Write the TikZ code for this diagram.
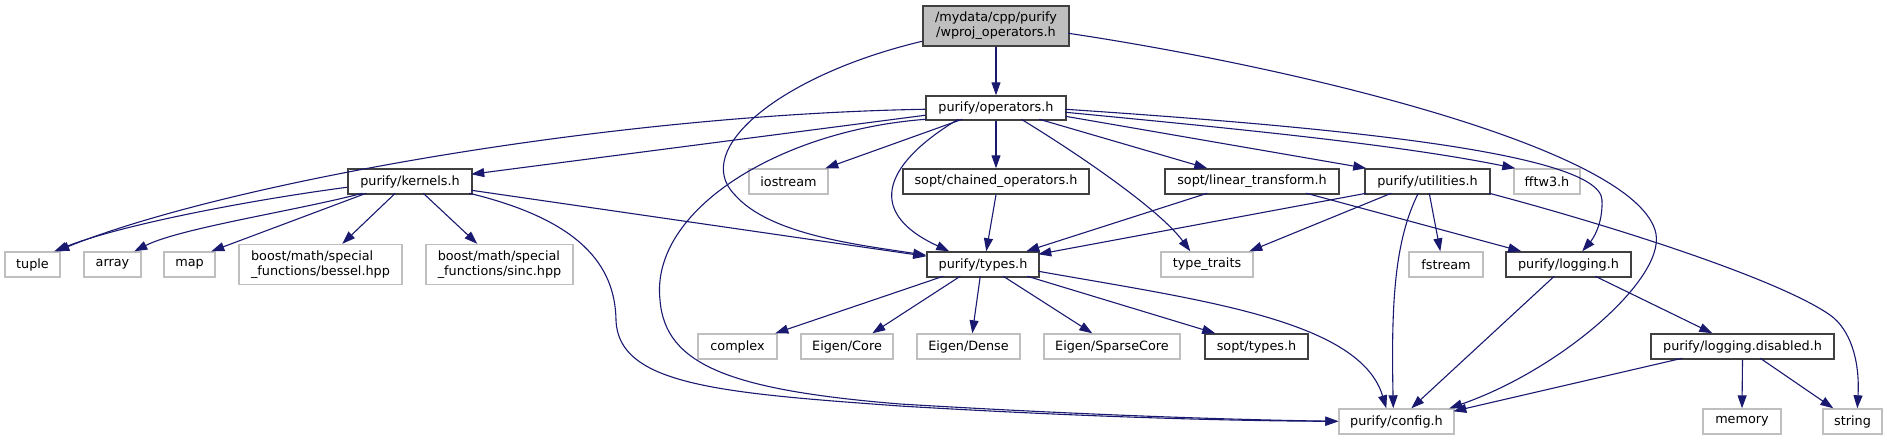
\documentclass[tikz,border=0pt]{standalone}
\usepackage{fontspec}
\setmainfont{DejaVu Sans}
\usetikzlibrary{arrows.meta,calc}
\definecolor{edgecol}{HTML}{191970}
\definecolor{docb}{HTML}{404040}
\definecolor{undocb}{HTML}{BFBFBF}
\definecolor{rootfill}{HTML}{BFBFBF}
\begin{document}
\begin{tikzpicture}[x=1pt,y=-1pt,
  box/.style={rectangle, inner sep=0pt, minimum height=25pt, font=\fontsize{12.8}{15}\selectfont, fill=white},
  doc/.style={box, draw=docb, line width=1.5pt},
  ext/.style={box, draw=undocb, line width=1.4pt},
  root/.style={doc, fill=rootfill},
  link/.style={draw=edgecol, line width=1.1pt, -{Triangle[length=13pt,width=9pt]}}]
\useasboundingbox (0,0) rectangle (1887,440);
% row 1
\node[root, minimum width=146pt, minimum height=40pt, align=center] (top) at (996,26) {/mydata/cpp/purify\\/wproj\_operators.h};
% row 2
\node[doc, minimum width=140pt, minimum height=24pt] (ops) at (996,108) {purify/operators.h};
% row 3
\node[doc, minimum width=124pt] (kern) at (410,181.5) {purify/kernels.h};
\node[ext, minimum width=79pt] (iost) at (788.5,181.5) {iostream};
\node[doc, minimum width=186pt] (chain) at (996,181.5) {sopt/chained\_operators.h};
\node[doc, minimum width=174pt] (lin) at (1252,181.5) {sopt/linear\_transform.h};
\node[doc, minimum width=125pt] (util) at (1427.5,181.5) {purify/utilities.h};
\node[ext, minimum width=66pt] (fftw) at (1547,181.5) {fftw3.h};
% row 4
\node[ext, minimum width=55pt] (tuple) at (32.5,264.5) {tuple};
\node[ext, minimum width=57pt] (array) at (112.5,264.5) {array};
\node[ext, minimum width=51pt] (map) at (189.5,264.5) {map};
\node[ext, minimum width=163pt, minimum height=40pt, align=left] (bessel) at (320.5,264.5) {boost/math/special\\\_functions/bessel.hpp};
\node[ext, minimum width=147pt, minimum height=40pt, align=left] (sinc) at (499.5,264.5) {boost/math/special\\\_functions/sinc.hpp};
\node[doc, minimum width=112pt] (types) at (983,264.5) {purify/types.h};
\node[ext, minimum width=92pt] (ttr) at (1207,264.5) {type\_traits};
\node[ext, minimum width=74pt] (fstr) at (1446,264.5) {fstream};
\node[doc, minimum width=125pt] (logg) at (1568.5,264.5) {purify/logging.h};
% row 5
\node[ext, minimum width=79pt] (cplx) at (737.5,346.5) {complex};
\node[ext, minimum width=92pt] (ecore) at (847,346.5) {Eigen/Core};
\node[ext, minimum width=103pt] (edense) at (968.5,346.5) {Eigen/Dense};
\node[ext, minimum width=136pt] (esparse) at (1112,346.5) {Eigen/SparseCore};
\node[doc, minimum width=103pt] (stypes) at (1256.5,346.5) {sopt/types.h};
\node[doc, minimum width=183pt] (logdis) at (1742.5,346.5) {purify/logging.disabled.h};
% row 6
\node[ext, minimum width=115pt] (config) at (1396.5,421.5) {purify/config.h};
\node[ext, minimum width=78pt] (memory) at (1742,421.5) {memory};
\node[ext, minimum width=59pt] (string) at (1852.5,421.5) {string};

% edges
\draw[link] (top.south) -- (ops.north);
\draw[link] ($(top.north west)+(0,36)$) .. controls (780,75) and (690,150) .. (735,195) .. controls (770,235) and (860,245) .. ($(types.north west)+(0,4)$);
\draw[link] ($(top.north west)+(146,28)$) .. controls (1300,68) and (1640,150) .. (1656,234) .. controls (1664,280) and (1560,370) .. ($(config.north west)+(111,0)$);

\draw[link] ($(ops.north west)+(0,20)$) -- ($(kern.north west)+(124,6)$);
\draw[link] ($(ops.north west)+(0,14)$) .. controls (600,115) and (220,185) .. ($(tuple.north west)+(52,0)$);
\draw[link] ($(ops.north west)+(1,24)$) .. controls (780,130) and (650,210) .. (660,300) .. controls (665,365) and (730,390) .. (900,404) .. controls (1100,416) and (1250,420) .. ($(config.north west)+(0,13)$);
\draw[link] ($(ops.north west)+(37,24)$) -- ($(iost.north west)+(77,0)$);
\draw[link] (ops.south) -- (chain.north);
\draw[link] ($(ops.north west)+(33,24)$) .. controls (890,160) and (860,210) .. ($(types.north west)+(23,0)$);
\draw[link] ($(ops.north west)+(96,24)$) .. controls (1080,155) and (1160,210) .. ($(ttr.north west)+(30,0)$);
\draw[link] ($(ops.north west)+(114,24)$) -- ($(lin.north west)+(43,0)$);
\draw[link] ($(ops.north west)+(140,14)$) .. controls (1300,125) and (1600,150) .. (1602,200) .. controls (1603,225) and (1592,240) .. ($(logg.north west)+(77,0)$);
\draw[link] ($(ops.north west)+(140,17)$) .. controls (1250,130) and (1400,145) .. ($(fftw.north west)+(2,0)$);
\draw[link] ($(ops.north west)+(140,21)$) -- ($(util.north west)+(2,0)$);

\draw[link] ($(kern.north west)+(0,19)$) .. controls (250,200) and (120,225) .. ($(tuple.north west)+(50,0)$);
\draw[link] ($(kern.north west)+(15,25)$) .. controls (300,210) and (180,228) .. ($(array.north west)+(51,0)$);
\draw[link] ($(kern.north west)+(19,25)$) -- ($(map.north west)+(48,0)$);
\draw[link] ($(kern.north west)+(48,25)$) -- ($(bessel.north west)+(104,0)$);
\draw[link] ($(kern.north west)+(76,25)$) -- ($(sinc.north west)+(52,0)$);
\draw[link] ($(kern.north west)+(124,22)$) -- ($(types.north west)+(0,5)$);
\draw[link] ($(kern.north west)+(122,25)$) .. controls (580,220) and (615,265) .. (616,320) .. controls (618,385) and (720,393) .. (900,406) .. controls (1100,418) and (1250,421) .. ($(config.north west)+(0,13)$);

\draw[link] (chain.south) -- ($(types.north west)+(60,0)$);
\draw[link] ($(lin.north west)+(43,25)$) -- ($(types.north west)+(100,0)$);
\draw[link] ($(lin.north west)+(142,25)$) -- ($(logg.north west)+(16,0)$);

\draw[link] ($(util.north west)+(2,25)$) -- ($(types.north west)+(112,3)$);
\draw[link] ($(util.north west)+(27,25)$) -- ($(ttr.north west)+(89,0)$);
\draw[link] ($(util.north west)+(54,25)$) .. controls (1395,240) and (1391,300) .. ($(config.north west)+(55,0)$);
\draw[link] ($(util.north west)+(65,25)$) -- ($(fstr.north west)+(32,0)$);
\draw[link] ($(util.north west)+(125,25)$) .. controls (1620,228) and (1780,280) .. (1830,315) .. controls (1850,329) and (1860,360) .. ($(string.north west)+(35,0)$);

\draw[link] ($(types.north west)+(17,25)$) -- ($(cplx.north west)+(78,0)$);
\draw[link] ($(types.north west)+(34,25)$) -- ($(ecore.north west)+(72,0)$);
\draw[link] ($(types.north west)+(54,25)$) -- ($(edense.north west)+(56,0)$);
\draw[link] ($(types.north west)+(77,25)$) -- ($(esparse.north west)+(49,0)$);
\draw[link] ($(types.north west)+(101,25)$) -- ($(stypes.north west)+(11,0)$);
\draw[link] ($(types.north west)+(112,20)$) .. controls (1200,300) and (1360,320) .. ($(config.north west)+(48,0)$);

\draw[link] ($(logg.north west)+(49,25)$) -- ($(config.north west)+(73,0)$);
\draw[link] ($(logg.north west)+(90,25)$) -- ($(logdis.north west)+(62,0)$);

\draw[link] ($(logdis.north west)+(32,25)$) -- ($(config.north west)+(115,3)$);
\draw[link] (logdis.south) -- (memory.north);
\draw[link] ($(logdis.north west)+(110,25)$) -- ($(string.north west)+(11,0)$);
\end{tikzpicture}
\end{document}
